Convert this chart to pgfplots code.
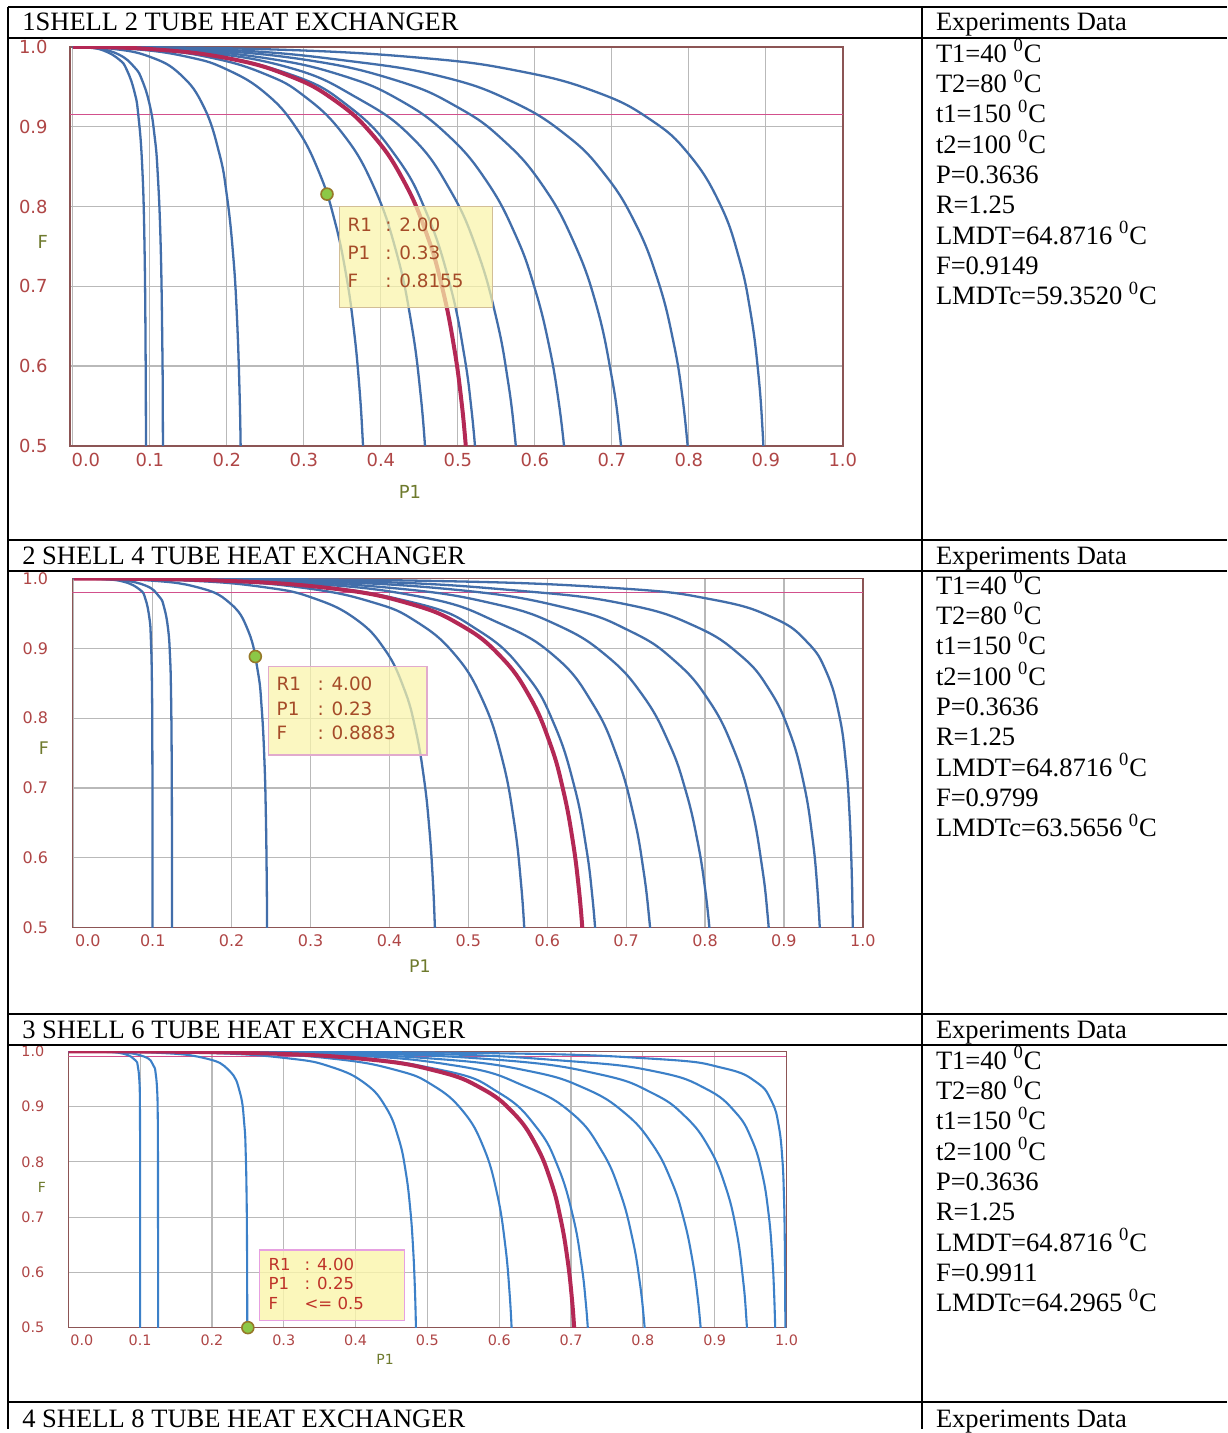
\documentclass[border=0pt]{standalone}
\usepackage{fontspec}
\setmainfont{Liberation Serif}
\newfontfamily\dejavu{DejaVu Sans}
\usepackage{pgfplots}
\pgfplotsset{compat=1.18}
\definecolor{curveblue}{RGB}{66,110,170}
\definecolor{curveblue3}{RGB}{60,128,200}
\definecolor{redc}{RGB}{180,40,85}
\definecolor{magl}{RGB}{210,80,140}
\definecolor{gridgray}{RGB}{185,185,185}
\definecolor{axisbrown}{RGB}{140,85,85}
\definecolor{ticklab}{RGB}{175,70,70}
\definecolor{axlab}{RGB}{110,122,45}
\definecolor{hovtext}{RGB}{165,75,40}
\definecolor{hovtext3}{RGB}{190,50,40}
\definecolor{hovfill}{RGB}{250,245,170}
\definecolor{hovb1}{RGB}{210,190,150}
\definecolor{hovb2}{RGB}{225,170,205}
\definecolor{hovb3}{RGB}{230,160,225}
\definecolor{mkfill}{RGB}{140,200,70}
\definecolor{mkedge}{RGB}{150,120,40}
\newcommand\tabfont{\fontsize{13.3pt}{15pt}\selectfont}
\newcommand\dg{\textsuperscript{0}C}
\newcommand\dl[2]{\node[anchor=base west, inner sep=0pt, font=\tabfont] at (938,#1) {#2};}
\newcommand\hl[2]{\node[anchor=base west, inner sep=0pt, font=\tabfont] at (22,#1) {#2};}
\pgfplotsset{
  hx/.style={scale only axis, clip=true, grid=major,
    grid style={gridgray, line width=0.6pt},
    axis line style={axisbrown, line width=0.75pt},
    major tick length=0pt, tick style={draw=none},
    ymin=0.5, ymax=1, xmax=1,
    xtick={0,0.1,0.2,0.3,0.4,0.5,0.6,0.7,0.8,0.9,1},
    ytick={0.5,0.6,0.7,0.8,0.9,1},
    yticklabels={0.5,0.6,0.7,0.8,0.9,1.0},
    ticklabel style={text=ticklab},
    /pgf/number format/assume math mode=true},
  bl/.style={curveblue, line width=1.15pt, smooth, tension=0.75, line join=round},
  bl3/.style={curveblue3, line width=1.05pt, smooth, tension=0.75, line join=round},
  rd/.style={redc, line width=2pt, smooth, tension=0.75, line join=round},
}
\begin{document}
\begin{tikzpicture}
\begin{scope}[x=0.5pt,y=-0.5pt]
\useasboundingbox (0,0) rectangle (1230,1433);
\fill[white] (0,0) rectangle (1230,1433);
\end{scope}

% ---------------- Chart 1: 1 shell 2 tube ----------------
\begin{axis}[hx, at={(35pt,-223.5pt)}, anchor=south west,
  width=387.5pt, height=200pt, xmin=-0.004,
  xticklabels={\hspace*{13pt}0.0,0.1,0.2,0.3,0.4,0.5,0.6,0.7,0.8,0.9,1.0},
  ticklabel style={font=\dejavu\fontsize{9pt}{10pt}\selectfont},
  yticklabel style={xshift=-7.6pt}]
\addplot[magl, line width=0.6pt] coordinates {(-0.004,0.9149) (1,0.9149)};
\addplot[bl] coordinates {(0,1) (0.02,0.99917) (0.04,0.99539) (0.06,0.98422) (0.07,0.97123) (0.08,0.94337) (0.085,0.91411) (0.09,0.85078) (0.093,0.75089) (0.0945,0.60423) (0.0949,0.4798)};
\addplot[bl] coordinates {(0,1) (0.03,0.99853) (0.06,0.99022) (0.08,0.97443) (0.09,0.95799) (0.1,0.92634) (0.106,0.88898) (0.11,0.84396) (0.114,0.75127) (0.1162,0.62128) (0.1168,0.5366) (0.1171,0.4436)};
\addplot[bl] coordinates {(0,1) (0.05,0.99781) (0.1,0.98761) (0.14,0.96509) (0.17,0.92491) (0.19,0.86705) (0.2,0.81346) (0.208,0.74088) (0.213,0.66305) (0.2165,0.56596) (0.218,0.48888)};
\addplot[bl] coordinates {(0,1) (0.08,0.99724) (0.15,0.98728) (0.2,0.97165) (0.25,0.94205) (0.29,0.89855) (0.32,0.84229) (0.34,0.78224) (0.355,0.71354) (0.365,0.64517) (0.372,0.57447) (0.3765,0.50605) (0.379,0.44818)};
\addplot[bl] coordinates {(0,1) (0.1,0.99672) (0.18,0.98633) (0.25,0.96577) (0.3,0.93864) (0.35,0.89177) (0.39,0.82643) (0.42,0.74322) (0.44,0.651) (0.452,0.56066) (0.458,0.489)};
\addplot[bl] coordinates {(0,1) (0.15,0.99351) (0.28,0.96631) (0.36,0.92414) (0.42,0.86234) (0.46,0.79032) (0.49,0.70105) (0.508,0.61515) (0.518,0.54257) (0.524,0.47819)};
\addplot[bl] coordinates {(0,1) (0.15,0.99478) (0.28,0.97427) (0.37,0.93562) (0.44,0.88692) (0.49,0.82055) (0.525,0.74481) (0.55,0.65979) (0.565,0.5817) (0.574,0.51197) (0.579,0.45526)};
\addplot[bl] coordinates {(0,1) (0.125,0.99731) (0.25,0.98596) (0.35,0.96408) (0.425,0.93301) (0.4875,0.88889) (0.5375,0.83146) (0.575,0.76403) (0.6,0.69704) (0.61875,0.62413) (0.63125,0.5532) (0.63875,0.49134)};
\addplot[bl] coordinates {(0,1) (0.15,0.99709) (0.3,0.98413) (0.42,0.95801) (0.5,0.92424) (0.56,0.88212) (0.61,0.82652) (0.65,0.75656) (0.68,0.67582) (0.7,0.58552) (0.71,0.51703) (0.716,0.45521)};
\addplot[bl] coordinates {(0,1) (0.2,0.99636) (0.36,0.98218) (0.48,0.96256) (0.57,0.9317) (0.64,0.88994) (0.69,0.84123) (0.73,0.77977) (0.76,0.70683) (0.78,0.63012) (0.792,0.55862) (0.8,0.48262)};
\addplot[bl] coordinates {(0,1) (0.25,0.99708) (0.45,0.98647) (0.58,0.96959) (0.68,0.94337) (0.75,0.9089) (0.8,0.86547) (0.84,0.80392) (0.865,0.73599) (0.88,0.6679) (0.89,0.59296) (0.896,0.51498) (0.899,0.44236)};
\addplot[rd] coordinates {(0,1) (0.1,0.99731) (0.2,0.98596) (0.28,0.96408) (0.34,0.93301) (0.39,0.88889) (0.43,0.83146) (0.46,0.76403) (0.48,0.69704) (0.495,0.62413) (0.505,0.5532) (0.511,0.49134)};
\addplot[only marks, mark=*, mark size=3pt, mark options={fill=mkfill, draw=mkedge, line width=0.8pt}] coordinates {(0.33,0.8155)};
\end{axis}

% ---------------- Chart 2: 2 shell 4 tube ----------------
\begin{axis}[hx, at={(36.25pt,-465pt)}, anchor=south west,
  width=396.25pt, height=175pt, xmin=-0.002,
  xticklabels={\hspace*{14pt}0.0,0.1,0.2,0.3,0.4,0.5,0.6,0.7,0.8,0.9,1.0},
  ticklabel style={font=\dejavu\fontsize{8pt}{9pt}\selectfont},
  yticklabel style={xshift=-8.6pt}]
\addplot[magl, line width=0.6pt] coordinates {(-0.002,0.9799) (1,0.9799)};
\addplot[bl] coordinates {(0,1) (0.035743,0.99917) (0.063415,0.99539) (0.083403,0.98422) (0.090536,0.97123) (0.095727,0.94337) (0.097575,0.91411) (0.098912,0.85078) (0.099464,0.75089) (0.099668,0.60423) (0.099714,0.4798)};
\addplot[bl] coordinates {(0,1) (0.052276,0.99853) (0.090198,0.99022) (0.107926,0.97443) (0.114521,0.95799) (0.119565,0.92634) (0.121827,0.88898) (0.123007,0.84396) (0.12392,0.75127) (0.124305,0.62128) (0.124396,0.5366) (0.12444,0.4436)};
\addplot[bl] coordinates {(0,1) (0.088384,0.99781) (0.15625,0.98761) (0.197483,0.96509) (0.221054,0.92491) (0.23317,0.86705) (0.238095,0.81346) (0.241467,0.74088) (0.24331,0.66305) (0.244475,0.56596) (0.244941,0.48888)};
\addplot[bl] coordinates {(0,1) (0.142626,0.99724) (0.243455,0.98728) (0.304348,0.97165) (0.357143,0.94205) (0.393965,0.89855) (0.418511,0.84229) (0.433401,0.78224) (0.443779,0.71354) (0.450311,0.64517) (0.454692,0.57447) (0.457425,0.50605) (0.458915,0.44818)};
\addplot[bl] coordinates {(0,1) (0.177665,0.99672) (0.293253,0.98633) (0.37931,0.96577) (0.433526,0.93864) (0.482389,0.89177) (0.517912,0.82643) (0.542562,0.74322) (0.558062,0.651) (0.567,0.56066) (0.571372,0.489)};
\addplot[bl] coordinates {(0,1) (0.25745,0.99351) (0.427765,0.96631) (0.514968,0.92414) (0.573271,0.86234) (0.609157,0.79032) (0.634628,0.70105) (0.649349,0.61515) (0.657346,0.54257) (0.662084,0.47819)};
\addplot[bl] coordinates {(0,1) (0.26087,0.99478) (0.4375,0.97427) (0.540146,0.93562) (0.611111,0.88692) (0.657718,0.82055) (0.688525,0.74481) (0.709677,0.65979) (0.722045,0.5817) (0.729352,0.51197) (0.733376,0.45526)};
\addplot[bl] coordinates {(0,1) (0.224684,0.99731) (0.407895,0.98596) (0.531596,0.96408) (0.613526,0.93301) (0.675681,0.88889) (0.721794,0.83146) (0.75442,0.76403) (0.775281,0.69704) (0.790475,0.62413) (0.800393,0.5532) (0.806261,0.49134)};
\addplot[bl] coordinates {(0,1) (0.267612,0.99709) (0.482029,0.98413) (0.62378,0.95801) (0.705882,0.92424) (0.761529,0.88212) (0.804181,0.82652) (0.835901,0.75656) (0.858282,0.67582) (0.872521,0.58552) (0.879434,0.51703) (0.883514,0.45521)};
\addplot[bl] coordinates {(0,1) (0.349593,0.99636) (0.568007,0.98218) (0.70215,0.96256) (0.787483,0.9317) (0.845002,0.88994) (0.881294,0.84123) (0.907351,0.77977) (0.925094,0.70683) (0.936034,0.63012) (0.942245,0.55862) (0.946237,0.48262)};
\addplot[bl] coordinates {(0,1) (0.43038,0.99708) (0.684731,0.98647) (0.810876,0.96959) (0.887165,0.94337) (0.929577,0.9089) (0.954128,0.86547) (0.970194,0.80392) (0.978568,0.73599) (0.982961,0.6679) (0.985622,0.59296) (0.987115,0.51498) (0.987832,0.44236)};
\addplot[rd] coordinates {(0,1) (0.179747,0.99731) (0.326316,0.98596) (0.425277,0.96408) (0.490821,0.93301) (0.540545,0.88889) (0.577435,0.83146) (0.603536,0.76403) (0.620225,0.69704) (0.63238,0.62413) (0.640314,0.5532) (0.645009,0.49134)};
\addplot[only marks, mark=*, mark size=3pt, mark options={fill=mkfill, draw=mkedge, line width=0.8pt}] coordinates {(0.23,0.8883)};
\end{axis}

% ---------------- Chart 3: 3 shell 6 tube ----------------
\begin{axis}[hx, at={(34.25pt,-665.5pt)}, anchor=south west,
  width=360pt, height=138.5pt, xmin=0,
  xticklabels={\hspace*{13.5pt}0.0,0.1,0.2,0.3,0.4,0.5,0.6,0.7,0.8,0.9,1.0},
  ticklabel style={font=\dejavu\fontsize{7.2pt}{8pt}\selectfont},
  yticklabel style={xshift=-8.5pt}]
\addplot[magl, line width=0.6pt] coordinates {(0,0.9911) (1,0.9911)};
\addplot[bl3] coordinates {(0,1) (0.048224,0.99917) (0.077478,0.99539) (0.093011,0.98422) (0.096969,0.97123) (0.099074,0.94337) (0.099603,0.91411) (0.099881,0.85078) (0.099958,0.75089) (0.09998,0.60423) (0.099984,0.4798)};
\addplot[bl3] coordinates {(0,1) (0.069028,0.99853) (0.106084,0.99022) (0.118397,0.97443) (0.121802,0.95799) (0.123799,0.92634) (0.124462,0.88898) (0.124732,0.84396) (0.124893,0.75127) (0.124945,0.62128) (0.12496,0.5366) (0.12497,0.4436)};
\addplot[bl3] coordinates {(0,1) (0.118381,0.99781) (0.19,0.98761) (0.224019,0.96509) (0.239096,0.92491) (0.245092,0.86705) (0.247059,0.81346) (0.248206,0.74088) (0.248751,0.66305) (0.249062,0.56596) (0.249177,0.48888)};
\addplot[bl3] coordinates {(0,1) (0.192796,0.99724) (0.306271,0.98728) (0.366337,0.97165) (0.413043,0.94205) (0.442275,0.89855) (0.459931,0.84229) (0.469784,0.78224) (0.476196,0.71354) (0.480014,0.64517) (0.482473,0.57447) (0.483955,0.50605) (0.484754,0.44818)};
\addplot[bl3] coordinates {(0,1) (0.239635,0.99672) (0.370635,0.98633) (0.457286,0.96577) (0.507361,0.93864) (0.549449,0.89177) (0.578098,0.82643) (0.596902,0.74322) (0.608211,0.651) (0.614533,0.56066) (0.617565,0.489)};
\addplot[bl3] coordinates {(0,1) (0.338163,0.99351) (0.518833,0.96631) (0.600763,0.92414) (0.65193,0.86234) (0.682024,0.79032) (0.70273,0.70105) (0.714441,0.61515) (0.720728,0.54257) (0.724424,0.47819)};
\addplot[bl3] coordinates {(0,1) (0.346154,0.99478) (0.538462,0.97427) (0.637931,0.93562) (0.702128,0.88692) (0.742424,0.82055) (0.768293,0.74481) (0.785714,0.65979) (0.795775,0.5817) (0.801676,0.51197) (0.804912,0.45526)};
\addplot[bl3] coordinates {(0,1) (0.306005,0.99731) (0.516475,0.98596) (0.642294,0.96408) (0.719208,0.93301) (0.774316,0.88889) (0.81342,0.83146) (0.840155,0.76403) (0.856831,0.69704) (0.868769,0.62413) (0.876461,0.5532) (0.880974,0.49134)};
\addplot[bl3] coordinates {(0,1) (0.362106,0.99709) (0.602973,0.98413) (0.741096,0.95801) (0.813433,0.92424) (0.858992,0.88212) (0.891778,0.82652) (0.914785,0.75656) (0.930211,0.67582) (0.939635,0.58552) (0.94409,0.51703) (0.94668,0.45521)};
\addplot[bl3] coordinates {(0,1) (0.464704,0.99636) (0.698895,0.98218) (0.820985,0.96256) (0.888618,0.9317) (0.9288,0.88994) (0.951374,0.84123) (0.965968,0.77977) (0.974988,0.70683) (0.980122,0.63012) (0.982875,0.55862) (0.984577,0.48262)};
\addplot[bl3] coordinates {(0,1) (0.56339,0.99708) (0.815212,0.98647) (0.912321,0.96959) (0.958939,0.94337) (0.979542,0.9089) (0.989173,0.86547) (0.994302,0.80392) (0.996517,0.73599) (0.997528,0.6679) (0.998082,0.59296) (0.998372,0.51498) (0.998507,0.44236)};
\addplot[rd] coordinates {(0,1) (0.244804,0.99731) (0.41318,0.98596) (0.513835,0.96408) (0.575366,0.93301) (0.619453,0.88889) (0.650736,0.83146) (0.672124,0.76403) (0.685465,0.69704) (0.695015,0.62413) (0.701169,0.5532) (0.704779,0.49134)};
\addplot[only marks, mark=*, mark size=3pt, mark options={fill=mkfill, draw=mkedge, line width=0.8pt}] coordinates {(0.25,0.5)};
\end{axis}

\begin{scope}[x=0.5pt,y=-0.5pt]
% axis labels
\node[font=\dejavu\fontsize{9pt}{10pt}\selectfont, text=axlab] at (43,243) {F};
\node[font=\dejavu\fontsize{9pt}{10pt}\selectfont, text=axlab] at (411,493) {P1};
\node[font=\dejavu\fontsize{8.7pt}{10pt}\selectfont, text=axlab] at (44,750) {F};
\node[font=\dejavu\fontsize{8.7pt}{10pt}\selectfont, text=axlab] at (421,969) {P1};
\node[font=\dejavu\fontsize{7pt}{8pt}\selectfont, text=axlab] at (42,1190) {F};
\node[font=\dejavu\fontsize{7pt}{8pt}\selectfont, text=axlab] at (386,1363) {P1};

% hover boxes
\draw[hovb1, line width=0.6pt, fill=hovfill, fill opacity=0.72] (340,207) rectangle (494,308);
\begin{scope}[every node/.style={anchor=base west, inner sep=0pt, text=hovtext, font=\dejavu\fontsize{9.2pt}{10pt}\selectfont}]
\node at (348,232.5) {R1}; \node at (386,232.5) {: 2.00};
\node at (348,260.5) {P1}; \node at (386,260.5) {: 0.33};
\node at (348,288.5) {F};  \node at (386,288.5) {: 0.8155};
\end{scope}
\draw[hovb2, line width=0.6pt, fill=hovfill, fill opacity=0.72] (269,668) rectangle (428,757);
\begin{scope}[every node/.style={anchor=base west, inner sep=0pt, text=hovtext, font=\dejavu\fontsize{9.2pt}{10pt}\selectfont}]
\node at (277,692.5) {R1}; \node at (318,692.5) {: 4.00};
\node at (277,717) {P1}; \node at (318,717) {: 0.23};
\node at (277,741.5) {F};  \node at (318,741.5) {: 0.8883};
\end{scope}
\draw[hovb3, line width=0.8pt, fill=hovfill, fill opacity=0.8] (260,1253) rectangle (405.5,1324);
\begin{scope}[every node/.style={anchor=base west, inner sep=0pt, text=hovtext3, font=\dejavu\fontsize{8.3pt}{9pt}\selectfont}]
\node at (269,1273.5) {R1}; \node at (305,1273.5) {: 4.00};
\node at (269,1293) {P1}; \node at (305,1293) {: 0.25};
\node at (269,1312.5) {F};  \node at (305,1312.5) {<= 0.5};
\end{scope}

% table lines
\begin{scope}[line width=1pt, black]
\draw (8,7) -- (1230,7);
\draw (8,7) -- (8,1433);
\draw (924,7) -- (924,1433);
\draw (8,38) -- (1230,38);
\draw (8,541) -- (1230,541);
\draw (8,572) -- (1230,572);
\draw (8,1017) -- (1230,1017);
\draw (8,1048) -- (1230,1048);
\draw (8,1406) -- (1230,1406);
\end{scope}

% headers
\hl{31}{1SHELL 2 TUBE HEAT EXCHANGER}
\hl{565.5}{2 SHELL 4 TUBE HEAT EXCHANGER}
\hl{1041.5}{3 SHELL 6 TUBE HEAT EXCHANGER}
\hl{1431}{4 SHELL 8 TUBE HEAT EXCHANGER}

% experiment data row 1
\dl{31}{Experiments Data}
\dl{62.3}{T1=40 \dg}
\dl{92.7}{T2=80 \dg}
\dl{123.1}{t1=150 \dg}
\dl{153.5}{t2=100 \dg}
\dl{183.9}{P=0.3636}
\dl{214.3}{R=1.25}
\dl{244.7}{LMDT=64.8716 \dg}
\dl{275.1}{F=0.9149}
\dl{305.5}{LMDTc=59.3520 \dg}
% row 2
\dl{565.5}{Experiments Data}
\dl{595.8}{T1=40 \dg}
\dl{626.2}{T2=80 \dg}
\dl{656.6}{t1=150 \dg}
\dl{687.0}{t2=100 \dg}
\dl{717.4}{P=0.3636}
\dl{747.8}{R=1.25}
\dl{778.2}{LMDT=64.8716 \dg}
\dl{808.6}{F=0.9799}
\dl{839.0}{LMDTc=63.5656 \dg}
% row 3
\dl{1041.5}{Experiments Data}
\dl{1071.8}{T1=40 \dg}
\dl{1102.2}{T2=80 \dg}
\dl{1132.6}{t1=150 \dg}
\dl{1163.0}{t2=100 \dg}
\dl{1193.4}{P=0.3636}
\dl{1223.8}{R=1.25}
\dl{1254.2}{LMDT=64.8716 \dg}
\dl{1284.6}{F=0.9911}
\dl{1315.0}{LMDTc=64.2965 \dg}
% row 4
\dl{1431}{Experiments Data}
\end{scope}
\end{tikzpicture}
\end{document}
